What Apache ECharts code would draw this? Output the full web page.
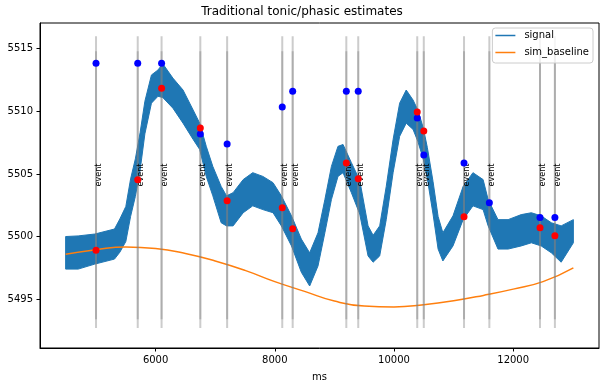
<!DOCTYPE html>
<html>
<head>
<meta charset="utf-8">
<script src="https://cdn.jsdelivr.net/npm/echarts@6/dist/echarts.min.js"></script>
<style>
html,body{margin:0;padding:0;background:#fff;}
#chart{width:604px;height:387px;}
</style>
</head>
<body>
<div id="chart"></div>
<script>
// ---- data ----
const sigX = [4490,4700,4980,5310,5400,5500,5580,5660,5740,5820,5930,6040,6120,6290,6460,6630,6740,6850,6960,7100,7190,7300,7470,7630,7800,7970,8110,8280,8445,8585,8725,8840,8950,9060,9145,9285,9425,9565,9650,9760,9870,9985,10095,10205,10320,10400,10490,10560,10655,10740,10820,10990,11160,11325,11495,11580,11745,11915,12135,12305,12470,12640,12805,13010];
const sigLow = [5497.4,5497.4,5497.8,5498.2,5498.75,5499.6,5501.6,5503.2,5505.3,5508.2,5510.65,5511.2,5511.1,5510.25,5509.05,5507.75,5506.95,5504.8,5503.25,5501.1,5500.85,5500.85,5501.9,5502.45,5502.15,5501.9,5500.85,5499.25,5497.15,5496.05,5497.65,5500.3,5502.95,5504.8,5505.1,5503.5,5501.8,5498.45,5497.95,5498.45,5501.35,5505.1,5508.0,5509.05,5508.55,5507.6,5506.2,5504.6,5501.8,5499.0,5498.05,5499.25,5501.35,5502.45,5502.15,5500.85,5499.0,5499.0,5499.25,5499.5,5499.25,5498.7,5497.95,5499.5];
const sigHigh = [5500.0,5500.05,5500.2,5500.6,5501.4,5502.4,5504.6,5506.2,5508.3,5510.8,5512.9,5513.3,5513.8,5512.65,5511.7,5510.1,5509.05,5507.2,5505.6,5504.0,5503.25,5503.5,5504.55,5505.1,5504.8,5504.3,5503.25,5501.65,5499.8,5498.7,5500.3,5502.95,5505.6,5507.2,5507.35,5505.9,5504.5,5500.85,5500.1,5500.85,5504.0,5507.75,5510.65,5511.7,5510.9,5510.1,5508.7,5507.1,5504.4,5501.6,5500.3,5501.65,5504.0,5505.1,5504.55,5502.95,5501.35,5501.35,5501.75,5501.9,5501.65,5501.1,5500.85,5501.35];

const baseX = [4490,5000,5500,6000,6500,7000,7500,8000,8500,9000,9500,10000,10500,11000,11500,12000,12500,13010];
const baseY = [5498.58,5498.95,5499.17,5499.05,5498.65,5498.05,5497.3,5496.4,5495.62,5494.85,5494.45,5494.38,5494.56,5494.87,5495.3,5495.8,5496.4,5497.5];

const eventX = [5000,5700,6100,6750,7200,8125,8300,9200,9400,10390,10500,11175,11600,12450,12700];
const blueY  = [5513.84,5513.84,5513.84,5508.19,5507.39,5510.34,5511.61,5511.61,5511.61,5509.46,5506.52,5505.88,5502.70,5501.51,5501.51];
const redX   = [5000,5700,6100,6750,7200,8125,8300,9200,9400,10390,10500,11175,12450,12700];
const redY   = [5498.9,5504.53,5511.85,5508.67,5502.86,5502.3,5500.63,5505.88,5504.61,5509.94,5508.43,5501.58,5500.71,5500.07];

const eventOuter = [5492.7, 5516.0];
const eventInner = [5493.4, 5514.8];
const eventLabelY = 5504;
const eventLabel = 'event';

const xTicks = [6000, 8000, 10000, 12000];
const yTicks = [5495, 5500, 5505, 5510, 5515];

// ---- chart ----
const FONT = 'DejaVu Sans';
const chart = echarts.init(document.getElementById('chart'), null, {renderer: 'canvas'});
const plain = v => String(v);

const option = {
  animation: false,
  backgroundColor: '#ffffff',
  title: {
    text: 'Traditional tonic/phasic estimates',
    left: 'center', top: 6, padding: 0,
    textStyle: {fontFamily: FONT, fontSize: 12, fontWeight: 'normal', color: '#000'}
  },
  legend: {
    orient: 'vertical', right: 11, top: 28, z: 10,
    padding: [2, 4, 5, 3], itemGap: 6,
    itemWidth: 20, itemHeight: 1.5,
    backgroundColor: 'rgba(255,255,255,0.8)',
    borderColor: '#cccccc', borderWidth: 1, borderRadius: 3,
    textStyle: {fontFamily: FONT, fontSize: 10, color: '#000', lineHeight: 11, padding: [0,0,0,4]},
    data: [
      {name: 'signal', icon: 'rect', itemStyle: {color: '#1f77b4'}},
      {name: 'sim_baseline', icon: 'rect', itemStyle: {color: '#ff7f0e'}}
    ]
  },
  grid: {left: 40, right: 5, top: 23, bottom: 38, show: true, borderColor: '#000', borderWidth: 1, backgroundColor: 'transparent'},
  xAxis: {
    type: 'value', min: 4060, max: 13440,
    name: 'ms', nameLocation: 'middle', nameGap: 24,
    nameTextStyle: {fontFamily: FONT, fontSize: 10, color: '#000'},
    axisLine: {show: true, lineStyle: {color: '#000', width: 1}},
    axisTick: {show: true, length: 3.5, lineStyle: {color: '#000'}, customValues: xTicks},
    axisLabel: {fontFamily: FONT, fontSize: 10, color: '#000', margin: 7, customValues: xTicks, formatter: plain},
    splitLine: {show: false}
  },
  yAxis: {
    type: 'value', min: 5491.1, max: 5517.05,
    axisLine: {show: true, lineStyle: {color: '#000', width: 1}},
    axisTick: {show: true, length: 3.5, lineStyle: {color: '#000'}, customValues: yTicks},
    axisLabel: {fontFamily: FONT, fontSize: 10, color: '#000', margin: 7, customValues: yTicks, formatter: plain},
    splitLine: {show: false}
  },
  series: [
    {
      name: 'signal', type: 'custom', z: 1,
      data: sigX.map((x, i) => [x, sigLow[i], sigHigh[i]]),
      encode: {x: 0, y: [1, 2]},
      itemStyle: {color: '#1f77b4'},
      renderItem: function (params, api) {
        if (params.dataIndex !== 0) return null;
        const pts = [];
        for (let i = 0; i < sigX.length; i++) pts.push(api.coord([sigX[i], sigHigh[i]]));
        for (let i = sigX.length - 1; i >= 0; i--) pts.push(api.coord([sigX[i], sigLow[i]]));
        return {type: 'polygon', shape: {points: pts}, style: {fill: '#1f77b4', stroke: '#1f77b4', lineWidth: 1}};
      }
    },
    {
      name: 'sim_baseline', type: 'line', z: 2, smooth: true, showSymbol: false, symbol: 'none',
      data: baseX.map((x, i) => [x, baseY[i]]),
      lineStyle: {color: '#ff7f0e', width: 1.5},
      itemStyle: {color: '#ff7f0e'}
    },
    {
      name: 'events', type: 'custom', z: 3,
      data: eventX.map(x => [x, eventLabelY]),
      encode: {x: 0, y: 1},
      renderItem: function (params, api) {
        const x = api.value(0);
        const a0 = api.coord([x, eventOuter[0]]), a1 = api.coord([x, eventOuter[1]]);
        const b0 = api.coord([x, eventInner[0]]), b1 = api.coord([x, eventInner[1]]);
        const t = api.coord([x, eventLabelY]);
        return {
          type: 'group',
          children: [
            {type: 'line', shape: {x1: a0[0], y1: a0[1], x2: a1[0], y2: a1[1]}, style: {stroke: 'rgba(128,128,128,0.4)', lineWidth: 2}},
            {type: 'line', shape: {x1: b0[0], y1: b0[1], x2: b1[0], y2: b1[1]}, style: {stroke: 'rgba(128,128,128,0.4)', lineWidth: 2}},
            {type: 'text', x: t[0] - 1, y: t[1], rotation: Math.PI / 2,
             style: {text: eventLabel, x: 0, y: 0, align: 'left', verticalAlign: 'top', fontFamily: FONT, fontSize: 8, fill: '#000'}}
          ]
        };
      }
    },
    {
      name: 'phasic_peak', type: 'scatter', z: 3, symbolSize: 7,
      data: eventX.map((x, i) => [x, blueY[i]]),
      itemStyle: {color: '#0000ff', opacity: 1}
    },
    {
      name: 'phasic_onset', type: 'scatter', z: 3, symbolSize: 7,
      data: redX.map((x, i) => [x, redY[i]]),
      itemStyle: {color: '#ff0000', opacity: 1}
    }
  ]
};
chart.setOption(option);
</script>
</body>
</html>
